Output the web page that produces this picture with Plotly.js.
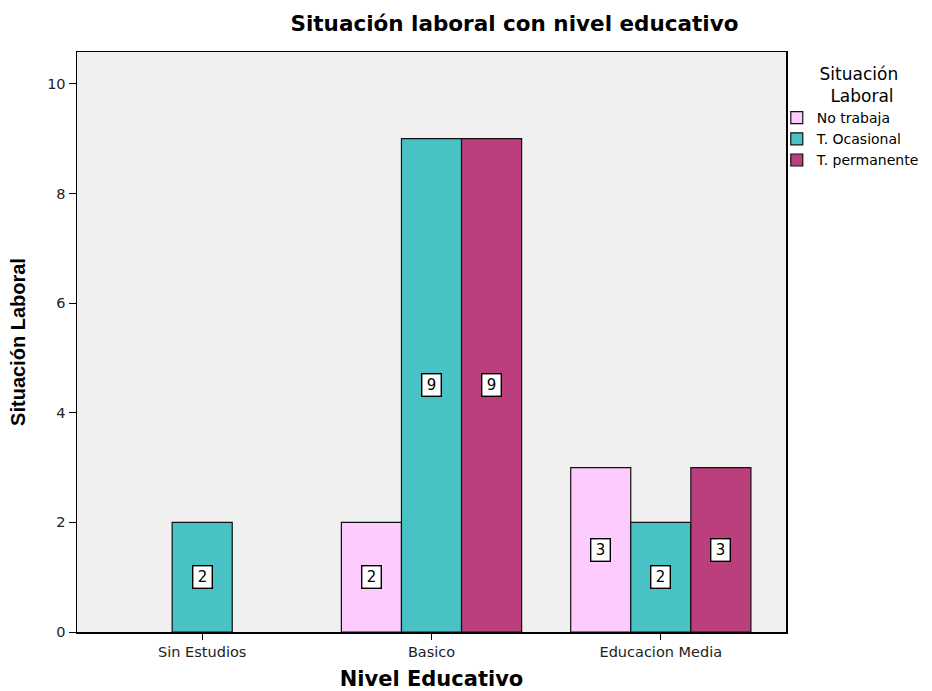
<!DOCTYPE html>
<html>
<head>
<meta charset="utf-8">
<script src="https://cdn.plot.ly/plotly-3.0.1.min.js"></script>
<style>
  html, body { margin: 0; padding: 0; background: #ffffff; }
  #chart { width: 932px; height: 691px; }
</style>
</head>
<body>
<div id="chart"></div>
<script>
// Education level categories and counts per employment status
const categories = ["Sin Estudios", "Basico", "Educacion Media"];
const noTrabaja = [null, 2, 3];
const tOcasional = [2, 9, 2];
const tPermanente = [null, 9, 3];
const seriesNames = ["No trabaja", "T. Ocasional", "T. permanente"];
const seriesColors = ["#FDCBFD", "#48C2C5", "#BB3F7C"];

const seriesValues = [noTrabaja, tOcasional, tPermanente];
const bargap = 0.214;
const barWidth = (1 - bargap) / seriesValues.length;
const FONT = "DejaVu Sans, Arial, sans-serif";

const traces = seriesValues.map((vals, i) => ({
  type: "bar",
  name: seriesNames[i],
  x: categories,
  y: vals,
  marker: { color: seriesColors[i], line: { color: "#111111", width: 1.2 } },
  hoverinfo: "x+y+name"
}));

// Boxed value labels at the vertical middle of each bar
const annotations = [];
seriesValues.forEach((vals, i) => {
  vals.forEach((v, j) => {
    if (v === null) return;
    // a category with a single bar keeps it in the middle slot
    const present = seriesValues.filter(s => s[j] !== null).length;
    const offset = present === 1 ? 0 : (i - 1) * barWidth;
    annotations.push({
      x: j + offset, y: v / 2, xref: "x", yref: "y",
      text: String(v), showarrow: false,
      font: { family: FONT, size: 15, color: "#000000" },
      width: 15, height: 18,
      bgcolor: "#ffffff", bordercolor: "#000000", borderwidth: 1.4, borderpad: 1.5
    });
  });
});

const layout = {
  width: 932, height: 691,
  margin: { l: 77, r: 146, t: 52, b: 59, autoexpand: false },
  paper_bgcolor: "#ffffff",
  plot_bgcolor: "#F0F0F0",
  barmode: "group",
  bargap: bargap,
  bargroupgap: 0,
  font: { family: FONT, color: "#222222" },
  title: {
    text: "<b>Situación laboral con nivel educativo</b>",
    font: { size: 21.5, color: "#000000", family: FONT },
    xref: "container", x: 0.552, xanchor: "center",
    yref: "container", y: 0.966, yanchor: "middle"
  },
  xaxis: {
    type: "category",
    range: [-0.546, 2.546],
    showline: true, linecolor: "#000000", linewidth: 1.5, mirror: true,
    ticks: "outside", ticklen: 6, tickcolor: "#000000",
    tickfont: { size: 14.5, color: "#222222", family: FONT },
    showgrid: false, zeroline: false,
    title: {
      text: "<b>Nivel Educativo</b>",
      font: { size: 21, color: "#000000", family: FONT },
      standoff: 14
    }
  },
  yaxis: {
    range: [0, 10.58],
    tickvals: [0, 2, 4, 6, 8, 10],
    showline: true, linecolor: "#000000", linewidth: 1.5, mirror: true,
    ticks: "outside", ticklen: 7, tickcolor: "#000000",
    tickfont: { size: 14.5, color: "#222222", family: FONT },
    showgrid: false, zeroline: false,
    title: {
      text: "<b>Situación Laboral</b>",
      font: { size: 20, color: "#000000", family: "Liberation Sans Narrow, Arial Narrow, Arial, sans-serif" },
      standoff: 16
    }
  },
  legend: {
    x: 0.987, xanchor: "left", y: 0.99, yanchor: "top",
    bgcolor: "rgba(0,0,0,0)",
    font: { size: 14, color: "#000000", family: FONT },
    itemwidth: 30,
    tracegroupgap: 0,
    title: {
      text: "\u00a0\u00a0\u00a0Situación<br>\u00a0\u00a0\u00a0\u00a0\u00a0Laboral",
      side: "top center",
      font: { size: 17, color: "#000000", family: FONT }
    }
  },
  annotations: annotations,
  showlegend: true
};

Plotly.newPlot("chart", traces, layout, { displayModeBar: false, staticPlot: true });
</script>
</body>
</html>
